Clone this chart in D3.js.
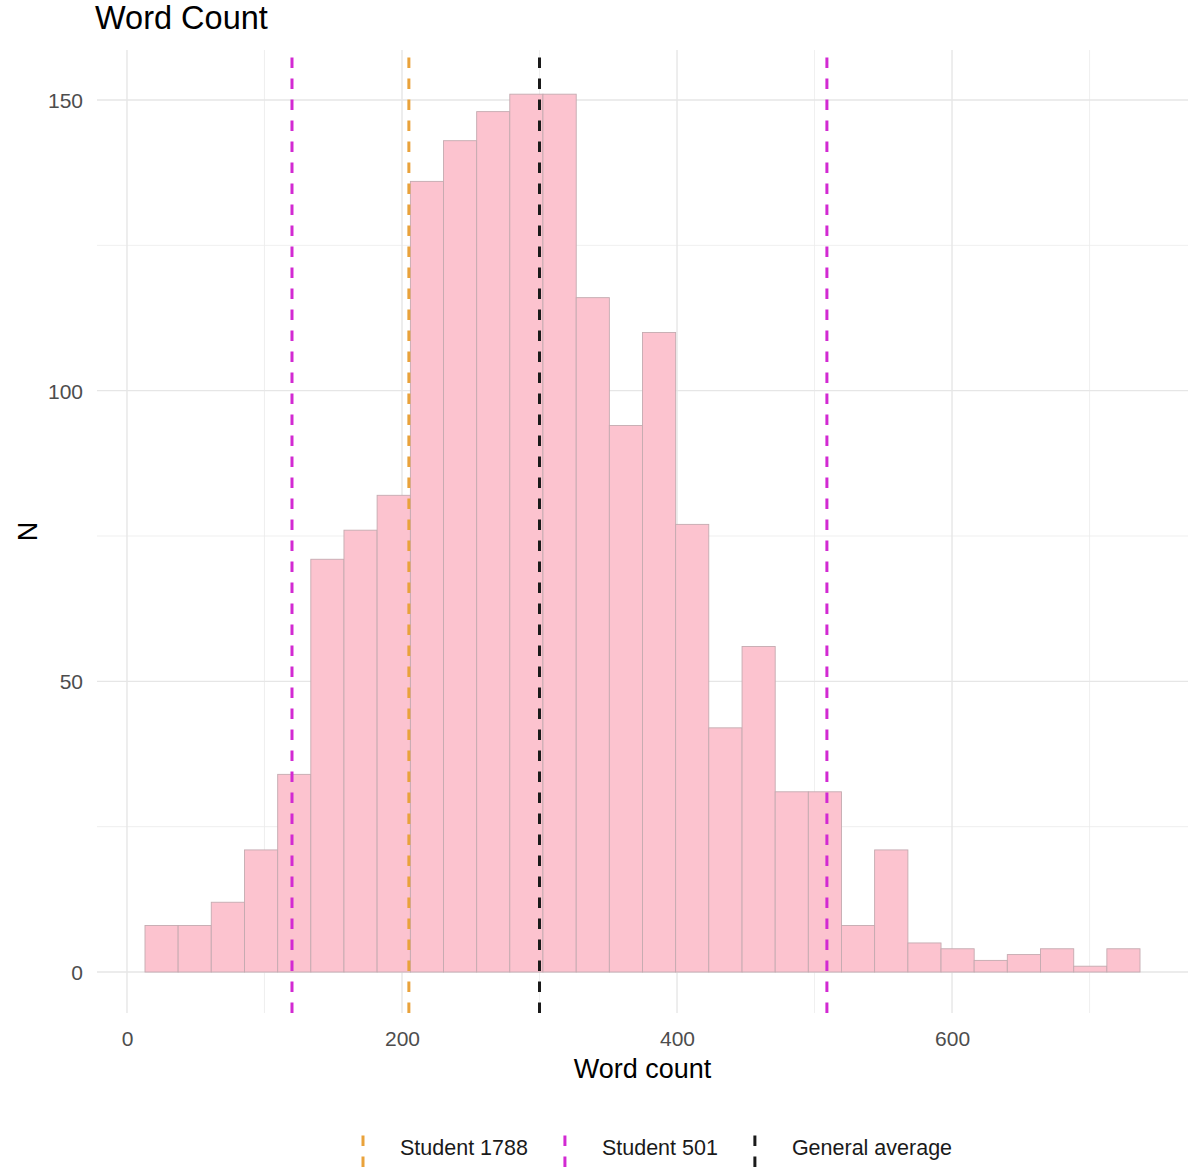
<!DOCTYPE html>
<html>
<head>
<meta charset="utf-8">
<script src="https://cdn.jsdelivr.net/npm/d3@7"></script>
<style>
  html, body { margin: 0; padding: 0; background: #fff; }
  svg { display: block; font-family: "Liberation Sans", Arial, sans-serif; }
</style>
</head>
<body>
<svg id="chart" width="1191" height="1167"></svg>
<script>
// ---- data ----
const binEdges = [13.1, 37.2, 61.3, 85.5, 109.6, 133.7, 157.8, 181.9, 206.1, 230.2,
                  254.3, 278.4, 302.5, 326.7, 350.8, 374.9, 399.0, 423.1, 447.3, 471.4,
                  495.5, 519.6, 543.7, 567.9, 592.0, 616.1, 640.2, 664.3, 688.5, 712.6, 736.7];
const counts = [8, 8, 12, 21, 34, 71, 76, 82, 136, 143,
                148, 151, 151, 116, 94, 110, 77, 42, 56, 31,
                31, 8, 21, 5, 4, 2, 3, 4, 1, 4];
const xMajorTicks = [0, 200, 400, 600];
const xMinorTicks = [100, 300, 500, 700];
const yMajorTicks = [0, 50, 100, 150];
const yMinorTicks = [25, 75, 125];
const refSeries = ["Student 1788", "Student 501", "General average"];
const refColors = ["#e9a23b", "#d22ad2", "#1a1a1a"];
const refLines = [
  { series: "Student 1788", value: 205 },
  { series: "Student 501", value: 120 },
  { series: "Student 501", value: 509 },
  { series: "General average", value: 300 }
];

// ---- layout ----
const svg = d3.select("#chart");
const panel = { left: 97, right: 1188, top: 50, bottom: 1013 };
const x = d3.scaleLinear().domain([-21.8, 771.6]).range([panel.left, panel.right]);
const y = d3.scaleLinear().domain([-7.05, 158.6]).range([panel.bottom, panel.top]);
const color = d3.scaleOrdinal().domain(refSeries).range(refColors);

const grid = svg.append("g");
// minor grid
grid.selectAll(".xmin").data(xMinorTicks).join("line")
  .attr("x1", d => x(d)).attr("x2", d => x(d))
  .attr("y1", panel.top).attr("y2", panel.bottom)
  .attr("stroke", "#ebebeb").attr("stroke-width", 0.8);
grid.selectAll(".ymin").data(yMinorTicks).join("line")
  .attr("x1", panel.left).attr("x2", panel.right)
  .attr("y1", d => y(d)).attr("y2", d => y(d))
  .attr("stroke", "#ebebeb").attr("stroke-width", 0.8);
// major grid
grid.selectAll(".xmaj").data(xMajorTicks).join("line")
  .attr("x1", d => x(d)).attr("x2", d => x(d))
  .attr("y1", panel.top).attr("y2", panel.bottom)
  .attr("stroke", "#e6e6e6").attr("stroke-width", 1.4);
grid.selectAll(".ymaj").data(yMajorTicks).join("line")
  .attr("x1", panel.left).attr("x2", panel.right)
  .attr("y1", d => y(d)).attr("y2", d => y(d))
  .attr("stroke", "#e6e6e6").attr("stroke-width", 1.4);

// bars
const bins = counts.map((c, i) => ({ x0: binEdges[i], x1: binEdges[i + 1], n: c }));
svg.append("g").selectAll("rect").data(bins).join("rect")
  .attr("x", d => x(d.x0))
  .attr("width", d => x(d.x1) - x(d.x0))
  .attr("y", d => y(d.n))
  .attr("height", d => y(0) - y(d.n))
  .attr("fill", "#fcc3cf")
  .attr("stroke", "#c4aab0")
  .attr("stroke-width", 0.9);

// reference lines (drawn from bottom to top, like ggplot)
svg.append("g").selectAll("line").data(refLines).join("line")
  .attr("x1", d => x(d.value)).attr("x2", d => x(d.value))
  .attr("y1", panel.bottom).attr("y2", panel.top)
  .attr("stroke", d => color(d.series))
  .attr("stroke-width", 3)
  .attr("stroke-dasharray", "10.5,10.5");

// axes tick labels
const axX = d3.axisBottom(x).tickValues(xMajorTicks).tickSize(0).tickPadding(0);
const gx = svg.append("g").attr("transform", `translate(0, ${panel.bottom + 11})`).call(axX);
gx.select(".domain").remove();
gx.selectAll("text").attr("font-size", 21).attr("fill", "#4d4d4d")
  .attr("font-family", "Liberation Sans, Arial, sans-serif").attr("dy", "1.05em");

const axY = d3.axisLeft(y).tickValues(yMajorTicks).tickSize(0).tickPadding(0);
const gy = svg.append("g").attr("transform", `translate(${panel.left - 14}, 0)`).call(axY);
gy.select(".domain").remove();
gy.selectAll("text").attr("font-size", 21).attr("fill", "#4d4d4d")
  .attr("font-family", "Liberation Sans, Arial, sans-serif").attr("dy", "0.36em");

// titles
svg.append("text").attr("x", 95).attr("y", 29)
  .attr("font-size", 32.5).attr("fill", "#000").text("Word Count");
svg.append("text").attr("x", (panel.left + panel.right) / 2).attr("y", 1078)
  .attr("text-anchor", "middle").attr("font-size", 27).attr("fill", "#000").text("Word count");
svg.append("text").attr("transform", `translate(37, ${(panel.top + panel.bottom) / 2}) rotate(-90)`)
  .attr("text-anchor", "middle").attr("font-size", 27).attr("fill", "#000").text("N");

// legend
const legend = svg.append("g");
let cursor = 342;
refSeries.forEach(s => {
  const g = legend.append("g");
  const kx = cursor + 21;
  g.append("line")
    .attr("x1", kx).attr("x2", kx)
    .attr("y1", 1167).attr("y2", 1126)
    .attr("stroke", color(s)).attr("stroke-width", 3)
    .attr("stroke-dasharray", "10.5,10.5");
  const t = g.append("text").attr("x", cursor + 42 + 16).attr("y", 1155)
    .attr("font-size", 21.5).attr("fill", "#1a1a1a").text(s);
  const w = t.node().getComputedTextLength();
  cursor = cursor + 42 + 16 + w + 16;
});
</script>
</body>
</html>
